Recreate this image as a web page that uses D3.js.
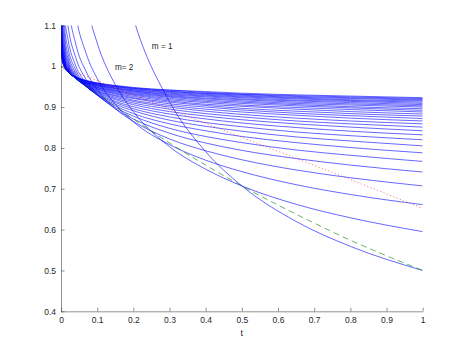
<!DOCTYPE html>
<html>
<head>
<meta charset="utf-8">
<script src="https://cdn.jsdelivr.net/npm/d3@7"></script>
<style>
  body { margin: 0; background: #fff; }
  svg text { font-family: "Liberation Sans", Arial, Helvetica, sans-serif; fill: #262626; }
</style>
</head>
<body>
<div id="chart"></div>
<script>
const tGrid = [0.001, 0.003, 0.01, 0.02, 0.04, 0.07, 0.1, 0.15, 0.2, 0.3, 0.4, 0.5, 0.65, 0.8, 1];

// blue family, one row per m (m = 1 is the lowest at t = 1)
const mValues = [1, 2, 3, 4, 5, 6, 7, 8, 9, 10, 11, 12, 13, 14, 15,
                 16, 17, 18, 19, 20, 21, 22, 23, 24, 25, 26, 27, 28, 29, 30];
const blueCurves = [
  [15.81, 9.129, 5.000, 3.536, 2.500, 1.890, 1.581, 1.291, 1.118, 0.913, 0.791, 0.707, 0.620, 0.559, 0.500],
  [3.344, 2.541, 1.880, 1.581, 1.330, 1.156, 1.057, 0.955, 0.889, 0.803, 0.748, 0.707, 0.662, 0.629, 0.595],
  [2.090, 1.740, 1.424, 1.269, 1.130, 1.030, 0.970, 0.907, 0.864, 0.808, 0.770, 0.742, 0.710, 0.686, 0.661],
  [1.677, 1.462, 1.258, 1.153, 1.057, 0.986, 0.943, 0.896, 0.865, 0.822, 0.793, 0.771, 0.746, 0.727, 0.707],
  [1.479, 1.325, 1.175, 1.096, 1.023, 0.967, 0.933, 0.896, 0.871, 0.836, 0.812, 0.794, 0.774, 0.758, 0.741],
  [1.365, 1.245, 1.126, 1.063, 1.003, 0.958, 0.930, 0.899, 0.878, 0.848, 0.828, 0.813, 0.795, 0.782, 0.767],
  [1.291, 1.194, 1.095, 1.042, 0.992, 0.953, 0.929, 0.903, 0.884, 0.859, 0.842, 0.828, 0.813, 0.801, 0.788],
  [1.240, 1.158, 1.074, 1.028, 0.985, 0.951, 0.930, 0.907, 0.891, 0.868, 0.853, 0.841, 0.827, 0.817, 0.805],
  [1.203, 1.132, 1.058, 1.018, 0.980, 0.950, 0.931, 0.911, 0.896, 0.876, 0.862, 0.852, 0.839, 0.830, 0.820],
  [1.175, 1.112, 1.047, 1.011, 0.977, 0.950, 0.933, 0.914, 0.901, 0.883, 0.871, 0.861, 0.850, 0.841, 0.832],
  [1.153, 1.096, 1.038, 1.006, 0.975, 0.950, 0.935, 0.918, 0.906, 0.889, 0.878, 0.869, 0.859, 0.851, 0.842],
  [1.135, 1.084, 1.031, 1.002, 0.973, 0.951, 0.937, 0.921, 0.910, 0.895, 0.884, 0.876, 0.866, 0.859, 0.851],
  [1.120, 1.074, 1.026, 0.999, 0.972, 0.952, 0.939, 0.924, 0.914, 0.900, 0.890, 0.882, 0.873, 0.866, 0.859],
  [1.108, 1.066, 1.021, 0.996, 0.972, 0.952, 0.940, 0.927, 0.917, 0.904, 0.895, 0.888, 0.880, 0.873, 0.866],
  [1.098, 1.059, 1.017, 0.994, 0.971, 0.953, 0.942, 0.929, 0.921, 0.908, 0.900, 0.893, 0.885, 0.879, 0.872],
  [1.090, 1.053, 1.014, 0.992, 0.971, 0.954, 0.944, 0.932, 0.923, 0.912, 0.904, 0.897, 0.890, 0.884, 0.878],
  [1.082, 1.048, 1.011, 0.991, 0.971, 0.955, 0.945, 0.934, 0.926, 0.915, 0.907, 0.902, 0.895, 0.889, 0.883],
  [1.076, 1.044, 1.009, 0.990, 0.971, 0.956, 0.947, 0.936, 0.929, 0.918, 0.911, 0.905, 0.899, 0.894, 0.888],
  [1.070, 1.040, 1.007, 0.989, 0.971, 0.957, 0.948, 0.938, 0.931, 0.921, 0.914, 0.909, 0.903, 0.898, 0.892],
  [1.065, 1.036, 1.006, 0.988, 0.971, 0.958, 0.949, 0.940, 0.933, 0.924, 0.917, 0.912, 0.906, 0.901, 0.896],
  [1.061, 1.033, 1.004, 0.988, 0.972, 0.959, 0.951, 0.941, 0.935, 0.926, 0.920, 0.915, 0.909, 0.905, 0.900],
  [1.057, 1.031, 1.003, 0.987, 0.972, 0.960, 0.952, 0.943, 0.937, 0.928, 0.922, 0.918, 0.912, 0.908, 0.903],
  [1.053, 1.028, 1.002, 0.987, 0.972, 0.960, 0.953, 0.945, 0.939, 0.930, 0.925, 0.920, 0.915, 0.911, 0.906],
  [1.050, 1.026, 1.001, 0.987, 0.972, 0.961, 0.954, 0.946, 0.940, 0.932, 0.927, 0.923, 0.917, 0.914, 0.909],
  [1.047, 1.024, 1.000, 0.986, 0.973, 0.962, 0.955, 0.947, 0.942, 0.934, 0.929, 0.925, 0.920, 0.916, 0.912],
  [1.044, 1.023, 0.999, 0.986, 0.973, 0.963, 0.956, 0.949, 0.943, 0.936, 0.931, 0.927, 0.922, 0.918, 0.915],
  [1.042, 1.021, 0.999, 0.986, 0.973, 0.963, 0.957, 0.950, 0.945, 0.938, 0.933, 0.929, 0.924, 0.921, 0.917],
  [1.040, 1.020, 0.998, 0.986, 0.974, 0.964, 0.958, 0.951, 0.946, 0.939, 0.934, 0.931, 0.926, 0.923, 0.919],
  [1.038, 1.018, 0.997, 0.986, 0.974, 0.965, 0.959, 0.952, 0.947, 0.941, 0.936, 0.932, 0.928, 0.925, 0.921],
  [1.036, 1.017, 0.997, 0.986, 0.974, 0.965, 0.959, 0.953, 0.948, 0.942, 0.938, 0.934, 0.930, 0.927, 0.923]
];

// green dashed curve
const greenT = [0, 0.1, 0.2, 0.3, 0.4, 0.5, 0.6, 0.7, 0.8, 0.9, 1];
const greenValues = [1, 0.933, 0.871, 0.812, 0.758, 0.707, 0.660, 0.616, 0.574, 0.536, 0.5];

// red dotted line
const redT = [0, 0.25, 0.5, 0.75, 1];
const redValues = [1, 0.912, 0.826, 0.740, 0.652];

// ticks
const xTickValues = [0, 0.1, 0.2, 0.3, 0.4, 0.5, 0.6, 0.7, 0.8, 0.9, 1];
const xTickLabels = ['0', '0.1', '0.2', '0.3', '0.4', '0.5', '0.6', '0.7', '0.8', '0.9', '1'];
const yTickValues = [0.4, 0.5, 0.6, 0.7, 0.8, 0.9, 1, 1.1];
const yTickLabels = ['0.4', '0.5', '0.6', '0.7', '0.8', '0.9', '1', '1.1'];

// text labels put on the plot (t, value)
const noteText = ['m = 1', 'm= 2'];
const notePos = [[0.251, 1.042], [0.149, 0.991]];

const width = 467, height = 350;
const margin = {top: 25.4, bottom: 38.7, left: 61, right: 44.3};

const svg = d3.select('#chart')
    .append('svg')
    .attr('width', width)
    .attr('height', height)
    .style('display', 'block');

const xScale = d3.scaleLinear()
    .domain([0, 1])
    .range([margin.left, width - margin.right]);

const yScale = d3.scaleLinear()
    .domain([0.4, 1.1])
    .range([height - margin.bottom, margin.top]);

// clip like the axes box
svg.append('clipPath')
    .attr('id', 'plotArea')
    .append('rect')
    .attr('x', margin.left)
    .attr('y', margin.top)
    .attr('width', width - margin.left - margin.right)
    .attr('height', height - margin.top - margin.bottom);

const line = d3.line()
    .x(d => xScale(d[0]))
    .y(d => yScale(d[1]))
    .curve(d3.curveMonotoneX);

const plot = svg.append('g').attr('clip-path', 'url(#plotArea)');

// blue curves
plot.selectAll('path.blue')
    .data(mValues)
    .enter().append('path')
    .attr('class', 'blue')
    .attr('d', (m, i) => line(tGrid.map((t, j) => [t, blueCurves[i][j]])))
    .attr('fill', 'none')
    .attr('stroke', '#0000ff')
    .attr('stroke-width', 0.6);

// green dashed
plot.append('path')
    .attr('d', line(greenT.map((t, j) => [t, greenValues[j]])))
    .attr('fill', 'none')
    .attr('stroke', '#008000')
    .attr('stroke-width', 0.6)
    .attr('stroke-dasharray', '6,4');

// red dotted
plot.append('path')
    .attr('d', line(redT.map((t, j) => [t, redValues[j]])))
    .attr('fill', 'none')
    .attr('stroke', '#ff0000')
    .attr('stroke-width', 0.6)
    .attr('stroke-dasharray', '1,2.5');

// axes, ticks point inward
let xAxis = svg.append('g')
    .attr('transform', `translate(0,${height - margin.bottom})`)
    .call(d3.axisBottom(xScale)
        .tickValues(xTickValues)
        .tickFormat((d, i) => xTickLabels[i])
        .tickSizeInner(-3.6)
        .tickSizeOuter(0)
        .tickPadding(6));

let yAxis = svg.append('g')
    .attr('transform', `translate(${margin.left},0)`)
    .call(d3.axisLeft(yScale)
        .tickValues(yTickValues)
        .tickFormat((d, i) => yTickLabels[i])
        .tickSizeInner(-3.6)
        .tickSizeOuter(0)
        .tickPadding(5));

[xAxis, yAxis].forEach(ax => {
    ax.select('.domain').attr('stroke', '#262626').attr('stroke-width', 0.5);
    ax.selectAll('.tick line').attr('stroke', '#262626').attr('stroke-width', 0.5);
    ax.selectAll('.tick text')
        .style('font-size', '8.5px')
        .attr('fill', '#262626');
});

// x label
svg.append('text')
    .attr('x', (xScale(0) + xScale(1)) / 2)
    .attr('y', 335.5)
    .text('t')
    .style('text-anchor', 'middle')
    .style('font-size', '9px');

// curve notes
svg.selectAll('text.note')
    .data(noteText)
    .enter().append('text')
    .attr('class', 'note')
    .attr('x', (d, i) => xScale(notePos[i][0]))
    .attr('y', (d, i) => yScale(notePos[i][1]))
    .text(d => d)
    .style('font-size', '8.2px');
</script>
</body>
</html>
